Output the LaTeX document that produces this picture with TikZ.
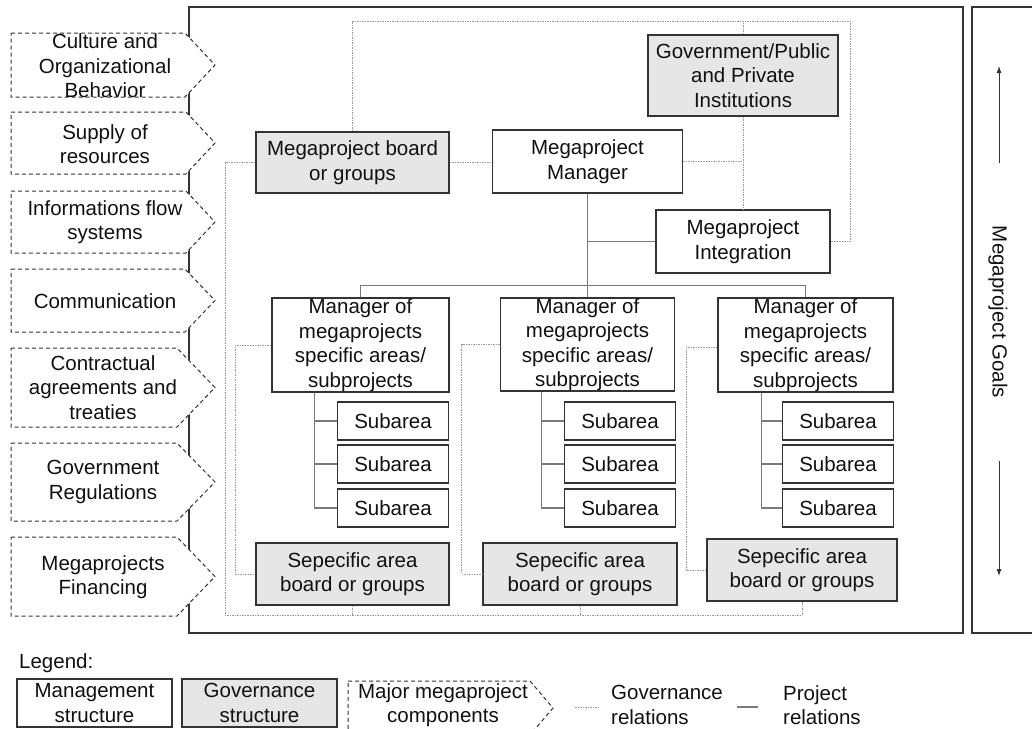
\documentclass[tikz,border=0pt]{standalone}
\usepackage{fontspec}
\setmainfont{Liberation Sans}
\usetikzlibrary{arrows.meta}
\definecolor{gfill}{HTML}{E6E6E6}
\definecolor{bord}{HTML}{333333}
\definecolor{txt}{HTML}{111111}
\definecolor{relgray}{HTML}{7A7A7A}
\definecolor{govgray}{HTML}{9A9A9A}
\newcommand\fs{\fontsize{20.5}{24.5}\selectfont}
\tikzset{
 box/.style={draw=bord, line width=1.3pt, fill=white, align=center, inner sep=0pt, text=txt, font=\fs},
 gbox/.style={box, fill=gfill},
 chev/.style={draw=bord, dash pattern=on 4pt off 3pt, line width=1pt, fill=white},
 lbl/.style={align=center, inner sep=0pt, text=txt, font=\fs},
 gov/.style={draw=govgray, line width=0.9pt, dash pattern=on 1.5pt off 1pt},
 proj/.style={draw=relgray, line width=1.2pt},
 frame/.style={draw=bord, line width=1.5pt},
 goalarrow/.style={draw=bord, line width=0.9pt, -{Latex[length=7pt,width=5pt]}},
}
\begin{document}
\begin{tikzpicture}[x=1pt,y=-1pt]
\useasboundingbox (0,0) rectangle (1032,728);
\clip (0,0) rectangle (1032,728);
\fill[white] (0,0) rectangle (1032,728);

% frames
\draw[frame] (189,7) rectangle (963,633);
\draw[frame] (972,7) rectangle (1045,633);

% right panel
\node[lbl, rotate=-90] (goals) at (998,312) {Megaproject Goals};
\coordinate (ua) at (999,163); \coordinate (ub) at (999,66);
\coordinate (da) at (999,461); \coordinate (db) at (999,576);
\draw[goalarrow] (ua) -- (ub);
\draw[goalarrow] (da) -- (db);

% chevrons (major megaproject components)
\draw[chev] (11,33) -- (185,33) -- (215,65) -- (185,97) -- (11,97) -- cycle;
\node[lbl] (c1) at (105,66) {Culture and\\Organizational\\Behavior};
\draw[chev] (11,112) -- (186,112) -- (215,143) -- (186,174) -- (11,174) -- cycle;
\node[lbl] (c2) at (105,144) {Supply of\\resources};
\draw[chev] (11,191) -- (186,191) -- (215,222) -- (186,253) -- (11,253) -- cycle;
\node[lbl] (c3) at (105,222) {Informations flow\\systems};
\draw[chev] (11,269) -- (185,269) -- (215,300.5) -- (185,332) -- (11,332) -- cycle;
\node[lbl] (c4) at (105,301) {Communication};
\draw[chev] (11,348) -- (177,348) -- (215,387.5) -- (177,427) -- (11,427) -- cycle;
\node[lbl] (c5) at (103,387.5) {Contractual\\agreements and\\treaties};
\draw[chev] (11,443) -- (177,443) -- (215,482) -- (177,521) -- (11,521) -- cycle;
\node[lbl] (c6) at (103,482) {Government\\Regulations};
\draw[chev] (11,537) -- (177,537) -- (215,576.5) -- (177,616) -- (11,616) -- cycle;
\node[lbl] (c7) at (103,577) {Megaprojects\\Financing};

% nodes
\node[gbox, minimum width=193pt, minimum height=61pt] (board) at (352.5,162.5) {Megaproject board\\or groups};
\node[box, minimum width=190pt, minimum height=63pt] (manager) at (587.5,161.5) {Megaproject\\Manager};
\node[gbox, minimum width=190pt, minimum height=81pt] (gov) at (743,75.5) {Government/Public\\and Private\\Institutions};
\node[box, minimum width=174pt, minimum height=63pt] (integ) at (743,241.5) {Megaproject\\Integration};

\node[box, minimum width=177pt, minimum height=94pt] (m1) at (360.5,345) {Manager of\\megaprojects\\specific areas/\\subprojects};
\node[box, minimum width=174pt, minimum height=93pt] (m2) at (587.5,344.5) {Manager of\\megaprojects\\specific areas/\\subprojects};
\node[box, minimum width=175pt, minimum height=94pt] (m3) at (805.5,345) {Manager of\\megaprojects\\specific areas/\\subprojects};

\foreach \n/\x in {1/393,2/620,3/838}{
  \node[box, minimum width=111pt, minimum height=38pt] (s\n1) at (\x,421) {Subarea};
  \node[box, minimum width=111pt, minimum height=38pt] (s\n2) at (\x,464) {Subarea};
  \node[box, minimum width=111pt, minimum height=38pt] (s\n3) at (\x,508) {Subarea};
}

\node[gbox, minimum width=193pt, minimum height=62pt] (b1) at (352.5,574) {Sepecific area\\board or groups};
\node[gbox, minimum width=194pt, minimum height=62pt] (b2) at (580,574) {Sepecific area\\board or groups};
\node[gbox, minimum width=190pt, minimum height=62pt] (b3) at (802,570) {Sepecific area\\board or groups};

% project relations
\draw[proj] (manager.south) -- (m2.north);
\draw[proj] (m1.north) -- ++(0,-12) -| (m3.north);
\draw[proj] (integ.west) -- (integ.west -| manager.south);
\draw[proj] ([xshift=43pt]m1.south west) |- (s13.west);
\draw[proj] (s11.west) -- ++(-22,0);
\draw[proj] (s12.west) -- ++(-22,0);
\draw[proj] ([xshift=42pt]m2.south west) |- (s23.west);
\draw[proj] (s21.west) -- ++(-22,0);
\draw[proj] (s22.west) -- ++(-22,0);
\draw[proj] ([xshift=44pt]m3.south west) |- (s33.west);
\draw[proj] (s31.west) -- ++(-21,0);
\draw[proj] (s32.west) -- ++(-21,0);

% governance relations
\coordinate (topright) at (850,21);
\coordinate (botleft) at (225,615);
\draw[gov] (board.north) |- (topright) |- (integ.east);
\draw[gov] (gov.north) -- (gov.north |- topright);
\draw[gov] (gov.south) -- (integ.north);
\draw[gov] (manager.east) -- (manager.east -| gov.south);
\draw[gov] (board.east) -- (board.east -| manager.west);
\draw[gov] (board.west) -| (botleft) -| (b3.south);
\draw[gov] (b1.south) -- (b1.south |- botleft);
\draw[gov] (b2.south) -- (b2.south |- botleft);
\draw[gov] (m1.west) -- ++(-36,0) |- (b1.west);
\draw[gov] (m2.west) -- ++(-38,0) |- (b2.west);
\draw[gov] ([yshift=-2pt]m3.west) -- ++(-31,0) |- (b3.west);

% legend
\node[lbl, anchor=west] (legend) at (19,663) {Legend:};
\node[box, minimum width=155pt, minimum height=48pt] (lm) at (94.5,703) {Management\\structure};
\node[gbox, minimum width=155pt, minimum height=48pt] (lg) at (259.5,703) {Governance\\structure};
\draw[chev] (348,681) -- (530,681) -- (553,708) -- (530,735) -- (348,735) -- cycle;
\node[lbl] (lc) at (443,705) {Major megaproject\\components};
\coordinate (lga) at (575,707); \coordinate (lgb) at (598,707);
\draw[gov] (lga) -- (lgb);
\node[lbl, anchor=west, align=left] (lgt) at (611,705) {Governance\\relations};
\coordinate (lpa) at (737,707); \coordinate (lpb) at (758,707);
\draw[proj] (lpa) -- (lpb);
\node[lbl, anchor=west, align=left] (lpt) at (783,705) {Project\\relations};
\end{tikzpicture}
\end{document}
